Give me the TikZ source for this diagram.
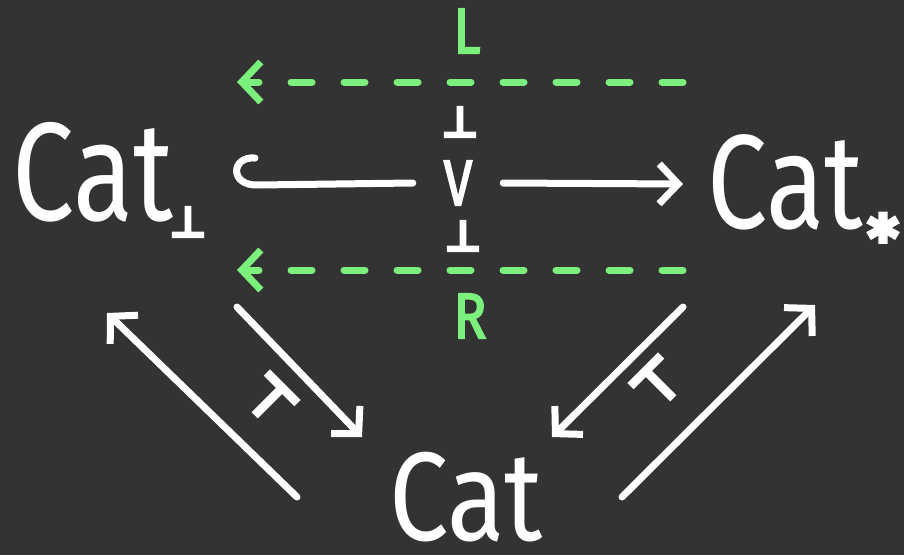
\documentclass[tikz,border=0pt]{standalone}
\usepackage{fontspec}
\setmainfont{Fira Sans}
\newfontfamily\symfont[FakeBold=10]{DejaVu Sans}
\newfontfamily\penfont[FakeBold=3]{Fira Sans}
\usetikzlibrary{arrows.meta}
\definecolor{board}{HTML}{333333}
\definecolor{adjgreen}{HTML}{7CF07C}

\begin{document}
\begin{tikzpicture}[x=1pt,y=-1pt,
  pen/.style={white, line width=7pt, line cap=round, line join=round},
  gpen/.style={adjgreen, line width=7pt, line cap=round, line join=round,
    dash pattern=on 21pt off 32pt},
  tip/.style={-{Straight Barb[length=19pt,width=40pt]}},
  catlabel/.style={white, inner sep=0pt, anchor=base west,
    font=\fontsize{#1}{#1}\selectfont},
  letter/.style={inner sep=0pt, font=\penfont\fontsize{64}{64}\selectfont},
  sym/.style={white, inner sep=0pt, font=\symfont\fontsize{40}{40}\selectfont},
  bigsym/.style={white, inner sep=0pt, font=\symfont\fontsize{54}{54}\selectfont}]

% background and page size
\fill[board] (0,0) rectangle (904,555);
\useasboundingbox (0,0) rectangle (904,555);

% the three categories
\node[catlabel=140] (catb) at (12,220) {\scalebox{0.79}[1]{Cat}};
\node[sym] (catbsub) at (188,222) {⊥};
\node[catlabel=134] (cats) at (707,228) {\scalebox{0.8}[1]{Cat}};
\node[white, inner sep=0pt, font=\symfont\fontsize{58}{58}\selectfont] (catssub) at (883,236) {*};
\node[catlabel=126] (cat) at (389,540) {\scalebox{0.84}[1]{Cat}};

% inclusion V and its adjoints
\node[letter, white, minimum width=90pt] (V) at (458,183) {\scalebox{0.8}[1]{V}};
\node[sym] (adjup) at (460,122) {⊥};
\node[sym] (adjdn) at (463,236) {⊥};
\node[letter, adjgreen] (L) at (467,31) {\scalebox{0.85}[1]{L}};
\node[letter, adjgreen] (R) at (470,316) {\scalebox{0.85}[1]{R}};

\coordinate (hooktop) at (255,158);
\coordinate (hookend) at (258,185);
\coordinate (intoS) at (683,184);
\draw[pen] (hooktop) .. controls (231,156) and (229,186) .. (hookend) -- (V.west);
\draw[pen, tip] (V.east) -- (intoS);

% dashed adjoints pointing back to Cat_bot
\coordinate (Lfrom) at (683,82);
\coordinate (Lto) at (237,82);
\coordinate (Rfrom) at (683,270);
\coordinate (Rto) at (237,270);
\draw[gpen, tip] (Lfrom) -- (Lto);
\draw[gpen, tip] (Rfrom) -- (Rto);

% adjunctions with Cat
\coordinate (la1) at (297,497);
\coordinate (la2) at (107,313);
\coordinate (lb1) at (237,307);
\coordinate (lb2) at (362,437);
\draw[pen, tip] (la1) -- (la2);
\draw[pen, tip] (lb1) -- (lb2);
\node[bigsym, rotate=-45] (tl) at (270,400) {⊤};

\coordinate (ra1) at (683,307);
\coordinate (ra2) at (552,437);
\coordinate (rb1) at (622,497);
\coordinate (rb2) at (815,305);
\draw[pen, tip] (ra1) -- (ra2);
\draw[pen, tip] (rb1) -- (rb2);
\node[bigsym, rotate=45] (tr) at (658,383) {⊤};
\end{tikzpicture}
\end{document}
